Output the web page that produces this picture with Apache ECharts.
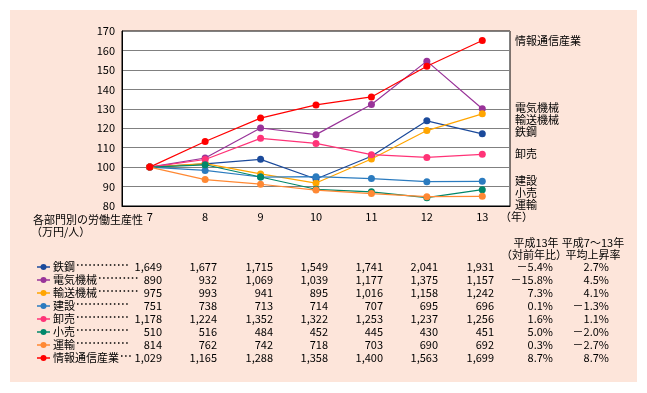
<!DOCTYPE html>
<html><head><meta charset="utf-8">
<script src="https://cdn.jsdelivr.net/npm/echarts@6/dist/echarts.min.js"></script>
<style>
html,body{margin:0;padding:0;background:#fff;}
#bg{position:absolute;left:10px;top:10px;width:627px;height:372px;background:#FDE5DA;}
#c{position:absolute;left:0;top:0;width:647px;height:393px;}
</style></head>
<body><div id="bg"></div><div id="c"></div>
<script>
// ---- data ----
const categories = ['7','8','9','10','11','12','13'];
const seriesNames = ['鉄鋼','電気機械','輸送機械','建設','卸売','小売','運輸','情報通信産業'];
// index (平成7年=100)
const idxSteel = [100, 101.7, 104.0, 93.9, 105.6, 123.8, 117.1];
const idxElec  = [100, 104.7, 120.1, 116.7, 132.2, 154.5, 130.0];
const idxTrans = [100, 101.8, 96.5, 91.8, 104.2, 118.8, 127.4];
const idxConst = [100, 98.3, 94.9, 95.1, 94.1, 92.5, 92.7];
const idxWhole = [100, 103.9, 114.8, 112.2, 106.4, 105.0, 106.6];
const idxRetail= [100, 101.2, 94.9, 88.6, 87.3, 84.3, 88.4];
const idxLogis = [100, 93.6, 91.2, 88.2, 86.4, 84.8, 85.0];
const idxInfo  = [100, 113.2, 125.2, 132.0, 136.1, 151.9, 165.1];
// table values (万円/人)
const tblSteel = [1649, 1677, 1715, 1549, 1741, 2041, 1931];
const tblElec  = [890, 932, 1069, 1039, 1177, 1375, 1157];
const tblTrans = [975, 993, 941, 895, 1016, 1158, 1242];
const tblConst = [751, 738, 713, 714, 707, 695, 696];
const tblWhole = [1178, 1224, 1352, 1322, 1253, 1237, 1256];
const tblRetail= [510, 516, 484, 452, 445, 430, 451];
const tblLogis = [814, 762, 742, 718, 703, 690, 692];
const tblInfo  = [1029, 1165, 1288, 1358, 1400, 1563, 1699];
const yoyRate  = [-5.4, -15.8, 7.3, 0.1, 1.6, 5.0, 0.3, 8.7];
const avgRate  = [2.7, 4.5, 4.1, -1.3, 1.1, -2.0, -2.7, 8.7];
const yTicks = {min: 80, max: 170, interval: 10};

// ---- styling / layout ----
const colors = ['#1B4A9B','#993399','#FFA500','#2B7BBF','#FF3377','#00876A','#FF8833','#FF0000'];
const indexSeries = [idxSteel, idxElec, idxTrans, idxConst, idxWhole, idxRetail, idxLogis, idxInfo];
const tableRows = [tblSteel, tblElec, tblTrans, tblConst, tblWhole, tblRetail, tblLogis, tblInfo];
const endLabelY = [132, 108, 120, 181, 154, 193, 205, 41];
const leaderEnd = [128, 138, 138, 128, 128, 128, 128, 132];
const colRight = [162, 217, 273, 328, 383, 438, 494];
const FONT = '"Noto Sans CJK JP", sans-serif';
const f11 = '11px ' + FONT;

const fmtPct = v => (v < 0 ? '－' : '') + Math.abs(v).toFixed(1) + '%';
const fmtNum = v => v.toLocaleString('en-US');

const graphic = [];
function txt(s, x, y, align) {
  graphic.push({type:'text', x:x, y:y, silent:true,
    style:{text:s, font:f11, fill:'#000', textAlign:align||'left', textVerticalAlign:'middle'}});
}
// right-side series labels
seriesNames.forEach((n,i)=> txt(n, 515, endLabelY[i]));
txt('（年）', 500, 217);
txt('各部門別の労働生産性', 33, 220);
txt('（万円/人）', 31, 232);
txt('平成13年', 536, 243, 'center');
txt('（対前年比）', 534, 255, 'center');
txt('平成7～13年', 593, 243, 'center');
txt('平均上昇率', 593, 255, 'center');

seriesNames.forEach((n,i)=>{
  const y = 267 + 13*i;
  graphic.push({type:'line', silent:true, shape:{x1:37,y1:y,x2:50,y2:y}, style:{stroke:colors[i], lineWidth:1.5}});
  graphic.push({type:'circle', silent:true, shape:{cx:43.5,cy:y,r:3}, style:{fill:colors[i]}});
  txt(n, 53, y);
  const nameEnd = 53 + 11*n.length + 2;
  graphic.push({type:'line', silent:true, shape:{x1:nameEnd,y1:y-2,x2:leaderEnd[i],y2:y-2},
    style:{stroke:'#000', lineWidth:1.5, lineDash:[1.5,2.6]}});
  tableRows[i].forEach((v,j)=> txt(fmtNum(v), colRight[j], y, 'right'));
  txt(fmtPct(yoyRate[i]), 553, y, 'right');
  txt(fmtPct(avgRate[i]), 609, y, 'right');
});

const chart = echarts.init(document.getElementById('c'), null, {renderer:'canvas'});
chart.setOption({
  backgroundColor: 'transparent',
  animation: false,
  grid: {left:122, right:137, top:31, bottom:187, show:true, backgroundColor:'#fff', borderColor:'#000', borderWidth:1},
  xAxis: {type:'category', data:categories, boundaryGap:true,
    axisLine:{lineStyle:{color:'#000', width:1}},
    axisTick:{inside:true, length:5, lineStyle:{color:'#000'}},
    axisLabel:{color:'#000', fontSize:11, fontFamily:FONT, margin:5}},
  yAxis: {type:'value', min:yTicks.min, max:yTicks.max, interval:yTicks.interval,
    axisLine:{show:true, lineStyle:{color:'#000'}},
    axisTick:{show:false},
    axisLabel:{color:'#000', fontSize:11, fontFamily:FONT, margin:7},
    splitLine:{lineStyle:{color:'#808080', width:1}}},
  series: seriesNames.map((n,i)=>({
    name:n, type:'line', data:indexSeries[i], symbol:'circle', symbolSize:7,
    itemStyle:{color:colors[i]}, lineStyle:{color:colors[i], width:1.2}, z: 2+i
  })),
  graphic: graphic
});
</script></body></html>
